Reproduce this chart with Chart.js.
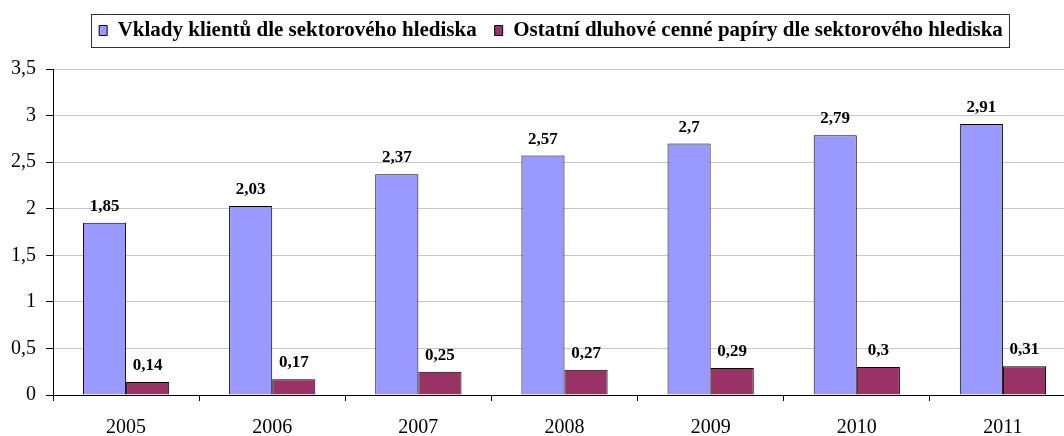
<!DOCTYPE html>
<html>
<head>
<meta charset="utf-8">
<script src="https://cdn.jsdelivr.net/npm/chart.js@4"></script>
<style>
  html, body { margin: 0; padding: 0; background: #fff; overflow: hidden; width: 1064px; height: 436px; }
  #wrap { width: 1076px; height: 436px; }
</style>
</head>
<body>
<div id="wrap"><canvas id="c" width="1076" height="436"></canvas></div>
<script>
// Years on the category axis
const years = ['2005', '2006', '2007', '2008', '2009', '2010', '2011'];
// Series values
const vklady = [1.85, 2.03, 2.37, 2.57, 2.7, 2.79, 2.91];
const ostatni = [0.14, 0.17, 0.25, 0.27, 0.29, 0.3, 0.31];
const seriesNames = ['Vklady klientů dle sektorového hlediska', 'Ostatní dluhové cenné papíry dle sektorového hlediska'];
// Value axis ticks
const yMin = 0, yMax = 3.5, yStep = 0.5;

const FONT = '"Liberation Serif", "Times New Roman", serif';
const fmt = v => String(v).replace('.', ',');

// Writes each bar's value above it
const valueLabels = {
  id: 'valueLabels',
  afterDatasetsDraw(chart) {
    const ctx = chart.ctx;
    ctx.save();
    ctx.font = 'bold 17px ' + FONT;
    ctx.fillStyle = '#000';
    ctx.textAlign = 'center';
    ctx.textBaseline = 'alphabetic';
    chart.data.datasets.forEach((ds, i) => {
      chart.getDatasetMeta(i).data.forEach((bar, j) => {
        ctx.fillText(fmt(ds.data[j]), bar.x, bar.y - 12);
      });
    });
    ctx.restore();
  }
};

// Legend placement: extra room below it and a slight shift to the right
const legendPlacement = {
  id: 'legendPlacement',
  beforeUpdate(chart) {
    const lg = chart.legend;
    if (lg && !lg._extraRoom) {
      const fit = lg.fit;
      lg.fit = function () { fit.call(this); this.height += 18; };
      lg._extraRoom = true;
    }
  },
  afterLayout(chart) {
    const lg = chart.legend;
    if (lg) { lg.left += 13; lg.right += 13; }
  }
};

// Frame around the legend row
const legendFrame = {
  id: 'legendFrame',
  afterDraw(chart) {
    const lg = chart.legend;
    if (!lg || !lg.legendHitBoxes || !lg.legendHitBoxes.length) return;
    const hb = lg.legendHitBoxes;
    const left = Math.min(...hb.map(h => h.left)) - 8;
    const right = Math.max(...hb.map(h => h.left + h.width)) + 6;
    const ctx = chart.ctx;
    ctx.save();
    ctx.strokeStyle = '#333';
    ctx.lineWidth = 1;
    ctx.strokeRect(Math.round(left) + 0.5, 14.5, Math.round(right - left), 33);
    ctx.restore();
  }
};

new Chart(document.getElementById('c'), {
  type: 'bar',
  data: {
    labels: years,
    datasets: [
      { label: seriesNames[0], data: vklady, backgroundColor: '#9999FF', borderColor: '#000', borderWidth: 1 },
      { label: seriesNames[1], data: ostatni, backgroundColor: '#993366', borderColor: '#000', borderWidth: 1 }
    ]
  },
  options: {
    responsive: false,
    animation: false,
    devicePixelRatio: 1,
    layout: { padding: { left: 0, right: 0, top: 2, bottom: 0 } },
    datasets: { bar: { categoryPercentage: 0.59, barPercentage: 1 } },
    plugins: {
      legend: {
        position: 'top',
        labels: {
          font: { family: FONT, size: 21, weight: 'bold' },
          color: '#000',
          boxWidth: 8,
          boxHeight: 10,
          padding: 18
        }
      },
      tooltip: { enabled: false }
    },
    scales: {
      x: {
        grid: { offset: true, drawOnChartArea: false, drawTicks: true, tickLength: 6, color: '#000' },
        border: { color: '#000' },
        ticks: { font: { family: FONT, size: 20 }, color: '#000', padding: 15 },
        afterFit(s) { s.height = 41; }
      },
      y: {
        min: yMin, max: yMax,
        grid: { color: '#c8c8c8', tickColor: '#000', tickLength: 7 },
        border: { color: '#000' },
        ticks: { stepSize: yStep, font: { family: FONT, size: 20 }, color: '#000', padding: 10, callback: v => fmt(v) },
        afterFit(s) { s.width = 53; }
      }
    }
  },
  plugins: [valueLabels, legendPlacement, legendFrame]
});
</script>
</body>
</html>
